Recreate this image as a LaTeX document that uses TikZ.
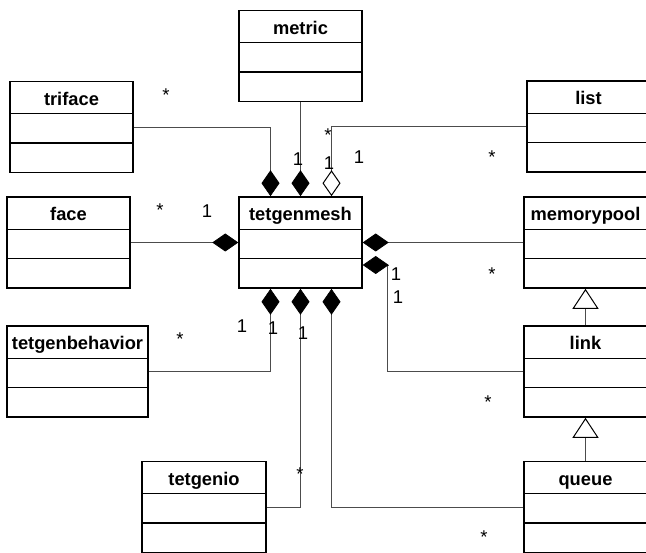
\documentclass[tikz,border=0pt]{standalone}
\usepackage{fontspec}
\setmainfont{Liberation Sans}
\usetikzlibrary{arrows.meta,shapes.multipart}

% title compartment plus two empty ones
\newcommand{\umlbody}[1]{\rule[-8pt]{0pt}{31pt}#1\nodepart{two}\rule{0pt}{28pt}\nodepart{three}\rule{0pt}{28pt}}

\tikzset{
  umlclass/.style={rectangle split, rectangle split parts=3, draw=black, line width=1.4pt,
    inner xsep=0pt, inner ysep=0pt, text width=#1, align=center,
    font=\fontsize{18.3}{22}\selectfont\bfseries},
  umlclass/.default=123pt,
  conn/.style={draw=black!70, line width=0.9pt},
  comp/.style={conn, -{Diamond[black,fill=black,length=26pt,width=18pt,line width=0.8pt]}},
  aggr/.style={conn, -{Diamond[open,black,length=26pt,width=18pt,line width=1pt]}},
  inherit/.style={conn, -{Triangle[open,black,length=20pt,width=26pt,line width=1pt]}},
  mult/.style={inner sep=0pt, font=\fontsize{18.5}{20}\selectfont},
  star/.style={mult, yshift=-4pt},
}

\begin{document}
\begin{tikzpicture}[x=1pt,y=-1pt]
    \useasboundingbox (0,0) rectangle (646,553);
    % classes
    \node[umlclass] (metric) at (300.5,56) {\umlbody{metric}};
    \node[umlclass] (triface) at (71.5,127) {\umlbody{triface}};
    \node[umlclass] (list) at (588.5,126.5) {\umlbody{list}};
    \node[umlclass] (tetgenmesh) at (300.5,242.5) {\umlbody{tetgenmesh}};
    \node[umlclass] (face) at (68.5,242.5) {\umlbody{face}};
    \node[umlclass] (memorypool) at (585.5,242.5) {\umlbody{memorypool}};
    \node[umlclass=141pt] (tetgenbehavior) at (77.5,371.5) {\umlbody{tetgenbehavior}};
    \node[umlclass] (link) at (585.5,371.5) {\umlbody{link}};
    \node[umlclass=124pt] (tetgenio) at (204,507) {\umlbody{tetgenio}};
    \node[umlclass] (queue) at (585.5,507) {\umlbody{queue}};

    % associations
    \draw[comp] (triface.east) -| ([xshift=-30pt]tetgenmesh.north);
    \draw[comp] (metric.south) -- (tetgenmesh.north);
    \draw[aggr] (list.west) -| ([xshift=31pt]tetgenmesh.north);
    \draw[comp] (face.east) -- (tetgenmesh.west);
    \draw[comp] (memorypool.west) -- (tetgenmesh.east);
    \draw[comp] (link.west) -| ([xshift=25pt,yshift=-22.5pt]tetgenmesh.east) -- ([yshift=-22.5pt]tetgenmesh.east);
    \draw[comp] (tetgenbehavior.east) -| ([xshift=-30pt]tetgenmesh.south);
    \draw[comp] (tetgenio.east) -| (tetgenmesh.south);
    \draw[comp] (queue.west) -| ([xshift=31pt]tetgenmesh.south);
    \draw[inherit] (link.north) -- (memorypool.south);
    \draw[inherit] (queue.north) -- (link.south);

    % multiplicities
    \node[star] (s-triface) at (166,91) {*};
    \node[star] (s-list1) at (328,131) {*};
    \node[star] (s-list2) at (492,153) {*};
    \node[star] (s-face) at (160,206) {*};
    \node[star] (s-pool) at (492,270) {*};
    \node[star] (s-behav) at (180,335) {*};
    \node[star] (s-io) at (300,470) {*};
    \node[star] (s-link) at (488,398) {*};
    \node[star] (s-queue) at (484,533) {*};
    \node[mult] (o-metric) at (298,159) {1};
    \node[mult] (o-list1) at (329,163) {1};
    \node[mult] (o-list2) at (359,157) {1};
    \node[mult] (o-face) at (207,211) {1};
    \node[mult] (o-link1) at (396,274) {1};
    \node[mult] (o-link2) at (398,297) {1};
    \node[mult] (o-behav1) at (242,326) {1};
    \node[mult] (o-behav2) at (273,328) {1};
    \node[mult] (o-io) at (303,333) {1};
\end{tikzpicture}
\end{document}
